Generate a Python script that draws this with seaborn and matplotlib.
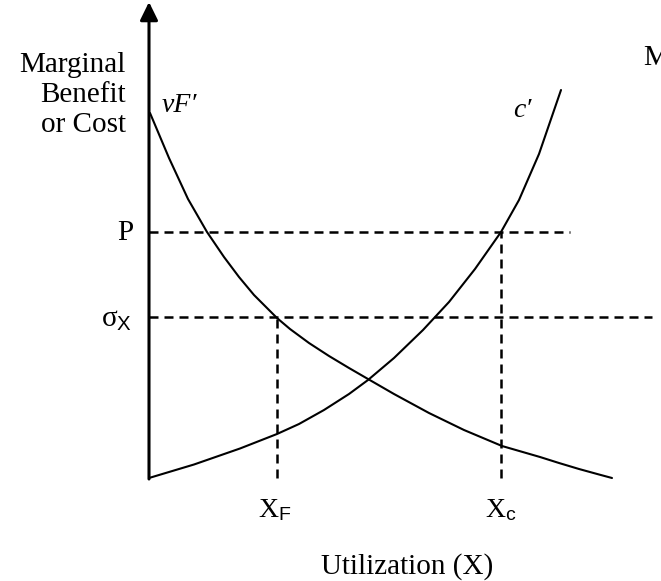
import numpy as np
import pandas as pd
import matplotlib
matplotlib.use("Agg")
import matplotlib.pyplot as plt
import seaborn as sns

# Curvas (unidades: distancia desde el origen)
benefit_x = [1, 20, 39, 58, 75, 90, 105, 128, 141, 160, 180, 200, 219,
             245, 280, 315, 353, 372, 391, 410, 430, 450, 463]
benefit_y = [365, 320, 279, 246, 221, 201, 183, 160, 149, 135, 122, 110, 99,
             84, 65, 48, 32, 26.5, 21, 15, 9, 3.5, 0]
cost_x = [0, 45, 91, 128, 150, 175, 200, 219, 245, 274, 300, 326, 352, 370, 390, 412]
cost_y = [0, 13.5, 29.5, 44, 54, 68, 84, 98, 120, 148, 176, 209, 246, 278, 324, 388]

# Niveles y cantidades
price = 246
sigma_x = 161
x_f = 128
x_c = 352
price_end = 421
sigma_end = 503

curve_names = ["vF'", "c'"]

sns.set_style("white")
plt.rcParams["font.family"] = ["Liberation Serif", "DejaVu Serif"]
plt.rcParams["text.color"] = "black"
plt.rcParams["mathtext.fontset"] = "custom"
plt.rcParams["mathtext.rm"] = "Liberation Serif"
plt.rcParams["mathtext.it"] = "Liberation Serif:italic"
plt.rcParams["mathtext.sf"] = "Liberation Sans"

df = pd.concat([
    pd.DataFrame({"x": benefit_x, "y": benefit_y, "curve": curve_names[0]}),
    pd.DataFrame({"x": cost_x, "y": cost_y, "curve": curve_names[1]}),
])

fig = plt.figure(figsize=(6.61, 5.81), dpi=100)
ax = fig.add_axes([0, 0, 1, 1])
ax.set_xlim(-149, 512)
ax.set_ylim(-103, 478)
ax.axis("off")

sns.lineplot(data=df, x="x", y="y", units="curve", estimator=None, sort=False,
             color="black", lw=1.5, ax=ax, legend=False)

# lineas discontinuas
dash = dict(color="black", lw=1.8, dashes=(3.6, 2.4))
ax.plot([0, price_end], [price, price], **dash)
ax.plot([0, sigma_end], [sigma_x, sigma_x], **dash)
ax.plot([x_f, x_f], [0, sigma_x], **dash)
ax.plot([x_c, x_c], [0, price], **dash)

# ejes con flechas
arrow = dict(arrowstyle="-|>,head_length=0.55,head_width=0.27", lw=2.2,
             color="black", mutation_scale=20, shrinkA=0, shrinkB=0)
ax.annotate("", xy=(0, 476), xytext=(0, -1), arrowprops=arrow)
ax.annotate("", xy=(516, 0), xytext=(-1, 0), arrowprops=arrow)

# textos
ax.text(-23, 383, "Marginal\nBenefit\nor Cost", ha="right", va="center",
        multialignment="right", fontsize=21, linespacing=1.2)
ax.text(-24, 245, "P", ha="center", va="center", fontsize=21)
ax.text(-32, 151, r"$\mathrm{\sigma}_{\mathsf{X}}$", ha="center", va="baseline", fontsize=21)
ax.text(x_f - 2, -39, r"$\mathrm{X}_{\mathsf{F}}$", ha="center", va="baseline", fontsize=20)
ax.text(x_c, -39, r"$\mathrm{X}_{\mathsf{c}}$", ha="center", va="baseline", fontsize=20)
ax.text(258, -96, "Utilization (X)", ha="center", va="baseline", fontsize=21)
ax.text(13, 366, "vF\u2032", ha="left", va="baseline", fontsize=20, style="italic")
ax.text(364, 361, "c\u2032", ha="left", va="baseline", fontsize=20, style="italic")
ax.text(494, 413, "M", ha="left", va="baseline", fontsize=21)

fig.savefig("out.png", dpi=100)
